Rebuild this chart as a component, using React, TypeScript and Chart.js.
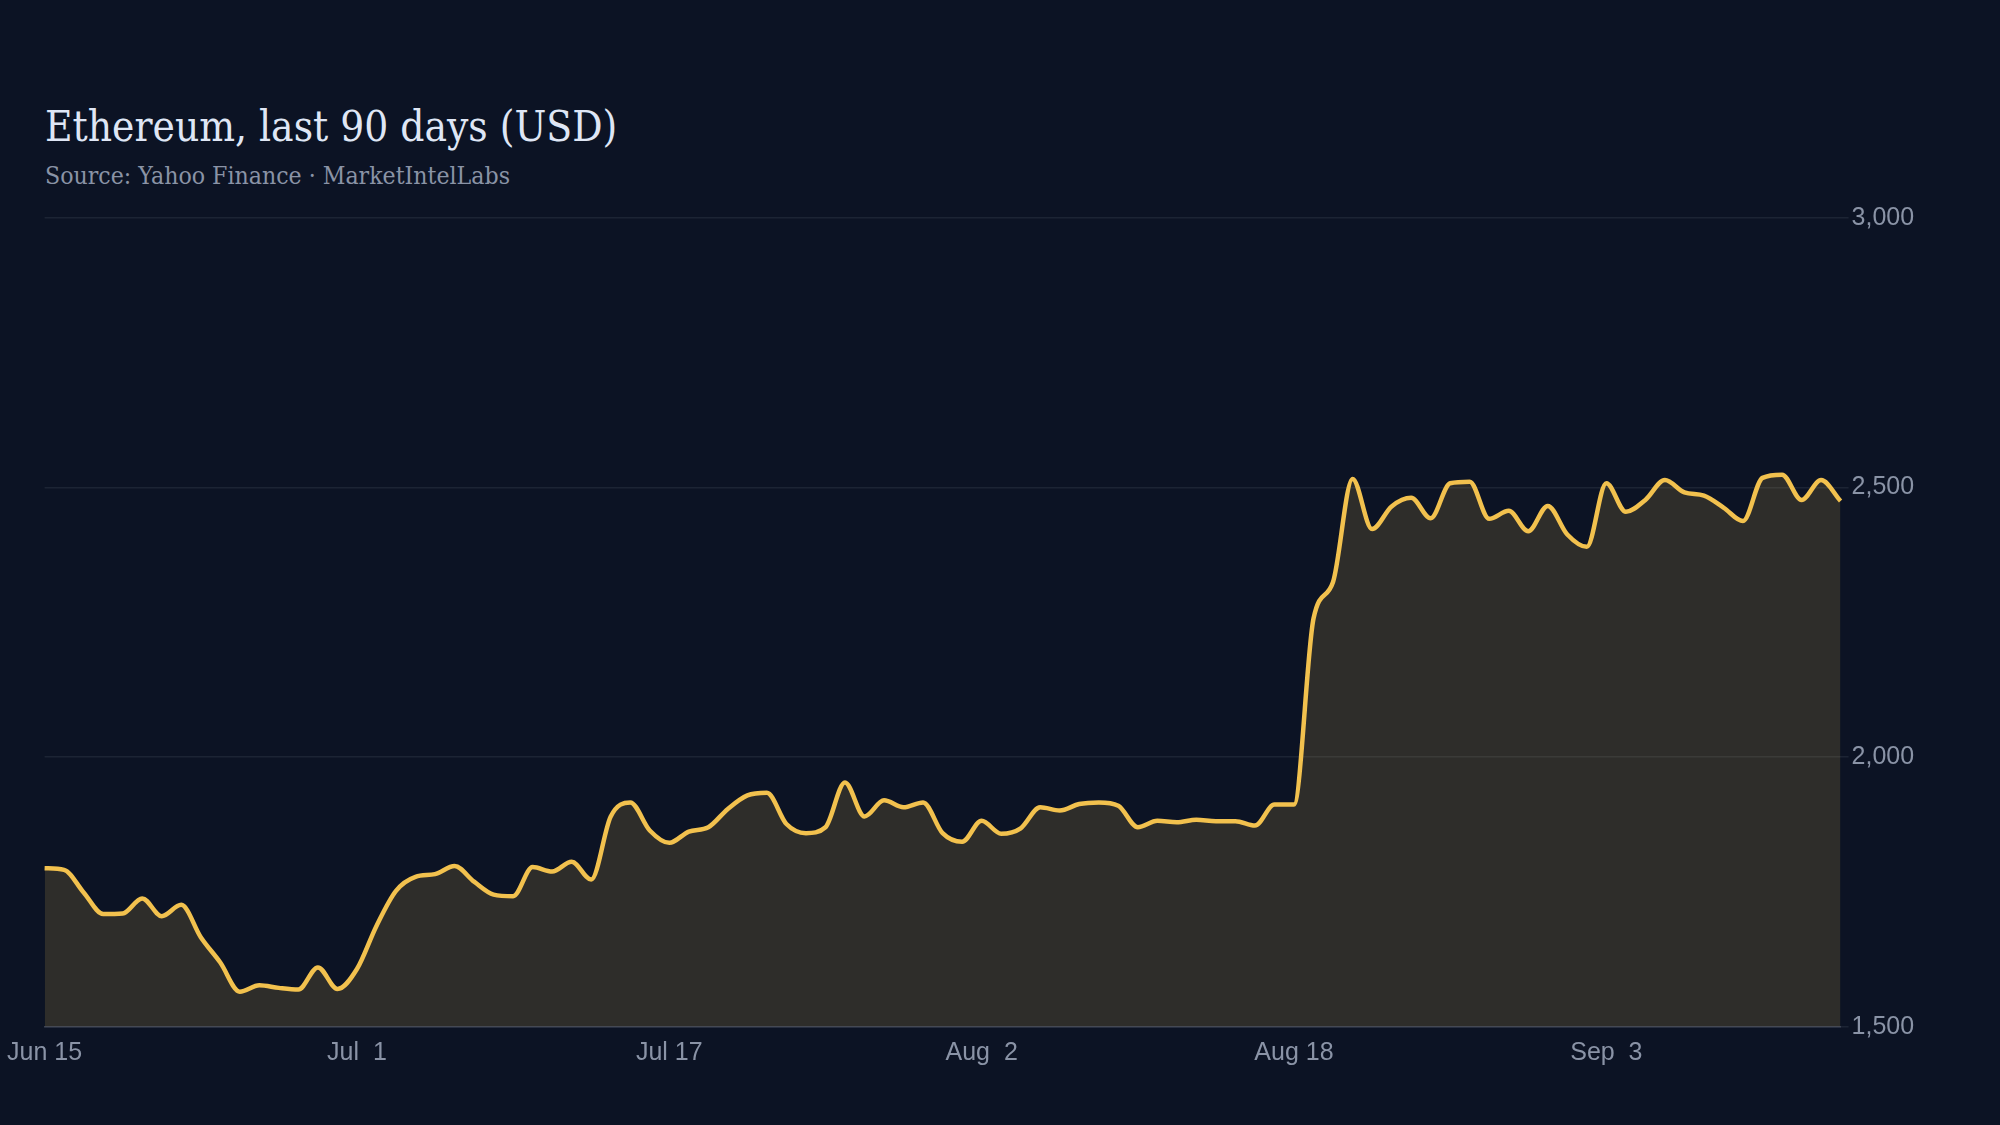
import React, { useEffect, useRef } from 'react';
import Chart from 'chart.js/auto';

// daily close, Jun 15 .. Sep 15
const startDay = new Date(2024, 5, 15);
const prices = [
  1794, 1791, 1749, 1709, 1710, 1738, 1705, 1726, 1666, 1619,
  1565, 1577, 1572, 1569, 1610, 1570, 1607, 1687, 1752, 1778,
  1783, 1798, 1769, 1745, 1742, 1796, 1788, 1806, 1773, 1890,
  1916, 1864, 1841, 1862, 1870, 1904, 1929, 1934, 1876, 1859,
  1870, 1953, 1890, 1920, 1907, 1916, 1859, 1843, 1882, 1858,
  1868, 1907, 1901, 1913, 1916, 1910, 1870, 1882, 1879, 1884,
  1881, 1881, 1873, 1912, 1912, 2257, 2325, 2516, 2423, 2465,
  2481, 2443, 2508, 2511, 2442, 2457, 2419, 2466, 2413, 2390,
  2508, 2455, 2477, 2514, 2491, 2485, 2463, 2438, 2518, 2524,
  2477, 2514, 2475,
];
const tickLabels = ['Jun 15', 'Jul  1', 'Jul 17', 'Aug  2', 'Aug 18', 'Sep  3'];
const yTicks = [1500, 2000, 2500, 3000];

const months = ['Jan', 'Feb', 'Mar', 'Apr', 'May', 'Jun', 'Jul', 'Aug', 'Sep', 'Oct', 'Nov', 'Dec'];
const fmtDay = (d: Date) => months[d.getMonth()] + ' ' + String(d.getDate()).padStart(2, ' ');
const days = prices.map((_, i) => {
  const d = new Date(startDay);
  d.setDate(d.getDate() + i);
  return fmtDay(d);
});

const BG = '#0c1324';
const LINE = '#f2c14e';

const PriceChart: React.FC = () => {
  const canvasRef = useRef<HTMLCanvasElement>(null);
  const chartRef = useRef<Chart<'line'>>();

  useEffect(() => {
    if (!canvasRef.current) return;
    const ctx = canvasRef.current.getContext('2d');
    if (!ctx) return;
    chartRef.current = new Chart(ctx, {
      type: 'line',
      data: {
        labels: days,
        datasets: [
          {
            data: prices,
            borderColor: LINE,
            borderWidth: 4.5,
            backgroundColor: 'rgba(242, 193, 78, 0.15)',
            fill: 'start',
            pointRadius: 0,
            cubicInterpolationMode: 'monotone',
          },
        ],
      },
      options: {
        responsive: false,
        animation: false,
        layout: { padding: { left: 44.6, right: 79.4, top: 38, bottom: 38.3 } },
        plugins: { legend: { display: false }, title: { display: false }, tooltip: { enabled: false } },
        scales: {
          x: {
            grid: { display: false, drawTicks: false },
            border: { display: true, color: '#3a4254', width: 1.5 },
            ticks: {
              autoSkip: false,
              maxRotation: 0,
              padding: 11,
              color: '#8a93a6',
              font: { family: '"Liberation Sans", Arial, sans-serif', size: 25 },
              callback: function (value) {
                const lbl = days[value as number];
                return tickLabels.includes(lbl) ? lbl : '';
              },
            },
            afterFit: (scale) => {
              scale.height = 60;
              scale.paddingLeft = 0;
              scale.paddingRight = 0;
            },
          },
          y: {
            position: 'right',
            min: 1500,
            max: 3000,
            grid: { color: '#1c2434', lineWidth: 1.5, tickLength: 8, drawTicks: true },
            border: { display: false },
            afterBuildTicks: (scale) => { scale.ticks = yTicks.map((v) => ({ value: v })); },
            ticks: {
              padding: 3,
              color: '#8a93a6',
              font: { family: '"Liberation Sans", Arial, sans-serif', size: 25 },
              callback: (v) => Number(v).toLocaleString('en-US'),
            },
            afterFit: (scale) => {
              scale.width = 80;
              scale.paddingTop = 0;
              scale.paddingBottom = 0;
            },
          },
        },
      },
    });
    return () => {
      chartRef.current?.destroy();
    };
  }, []);

  return (
    <canvas
      ref={canvasRef}
      width={2000}
      height={945}
      style={{ position: 'absolute', left: 0, top: 180, width: 2000, height: 945 }}
    />
  );
};

export default function App() {
  return (
    <div style={{ position: 'fixed', left: 0, top: 0, width: 2000, height: 1125, background: BG, overflow: 'hidden' }}>
      <div
        style={{
          position: 'absolute', left: 45, top: 101.5, color: '#dfe6f5', whiteSpace: 'nowrap',
          fontFamily: '"DejaVu Serif Condensed", "DejaVu Serif", serif', fontSize: 42, lineHeight: 'normal',
          fontStretch: 'condensed',
        }}
      >
        Ethereum, last 90 days (USD)
      </div>
      <div
        style={{
          position: 'absolute', left: 45, top: 160.5, color: '#8a93a6', whiteSpace: 'nowrap',
          fontFamily: '"DejaVu Serif Condensed", "DejaVu Serif", serif', fontSize: 24.6, lineHeight: 'normal',
          fontStretch: 'condensed',
        }}
      >
        Source: Yahoo Finance · MarketIntelLabs
      </div>
      <PriceChart />
    </div>
  );
}
